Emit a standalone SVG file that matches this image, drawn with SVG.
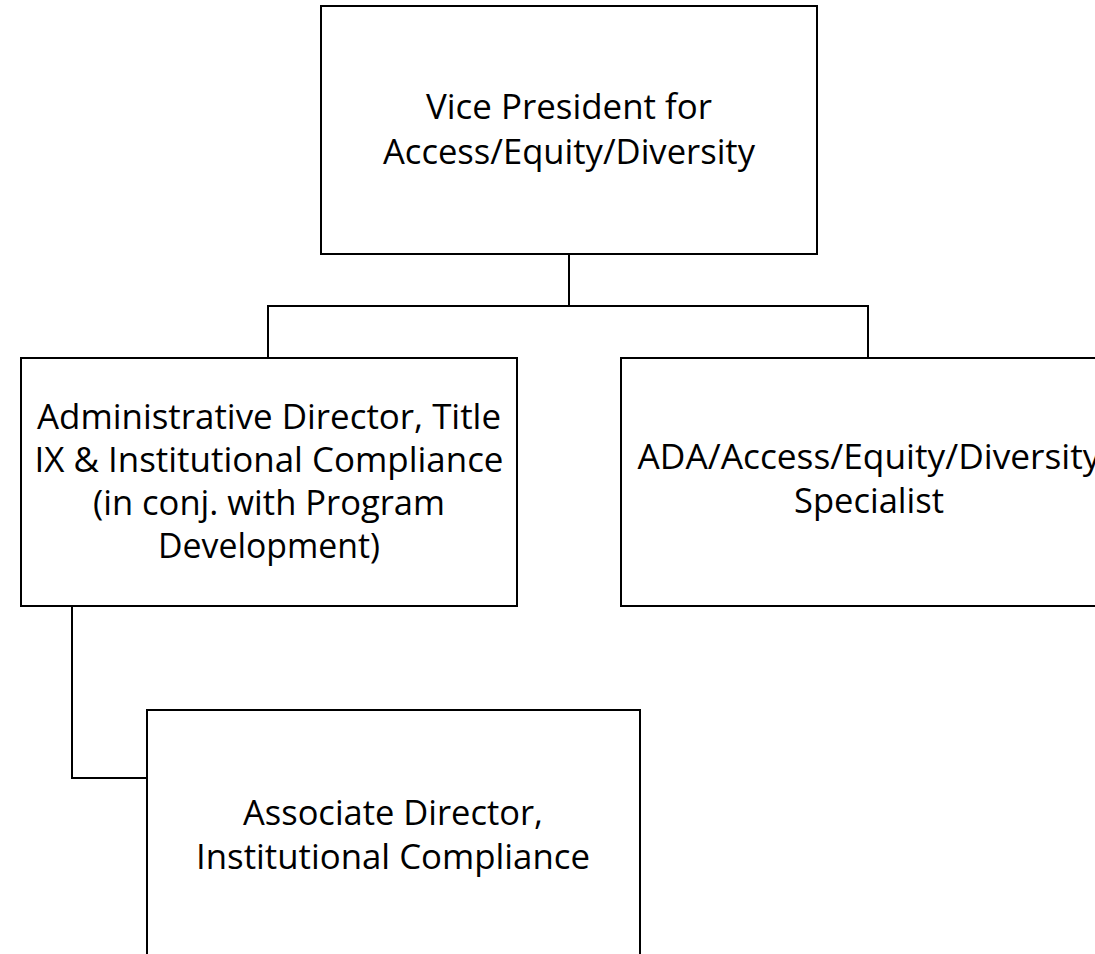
<svg xmlns="http://www.w3.org/2000/svg" width="1095" height="954" viewBox="0 0 1095 954">
<style>
.box{fill:#fff;stroke:#000;stroke-width:2}
.t{font-family:"Open Sans","Liberation Sans",sans-serif;font-size:35px;fill:#000;text-anchor:middle}
.c{fill:none;stroke:#000;stroke-width:2}
</style>
<rect width="1095" height="954" fill="#fff"/>
<g id="connectors">
<path class="c" d="M569,254 V306 M268,358 V306 H868 V358"/>
<path class="c" d="M72,606 V778 H147"/>
</g>
<g id="vp">
<rect class="box" x="321" y="6" width="496" height="248"/>
<text class="t" x="569" y="119" textLength="286" lengthAdjust="spacingAndGlyphs">Vice President for</text>
<text class="t" x="569" y="164" textLength="372" lengthAdjust="spacingAndGlyphs">Access/Equity/Diversity</text>
</g>
<g id="admin">
<rect class="box" x="21" y="358" width="496" height="248"/>
<text class="t" x="269" y="429" textLength="464" lengthAdjust="spacingAndGlyphs">Administrative Director, Title</text>
<text class="t" x="269" y="472" textLength="469" lengthAdjust="spacingAndGlyphs">IX &amp; Institutional Compliance</text>
<text class="t" x="269" y="515" textLength="352" lengthAdjust="spacingAndGlyphs">(in conj. with Program</text>
<text class="t" x="269" y="558" textLength="222" lengthAdjust="spacingAndGlyphs">Development)</text>
</g>
<g id="ada">
<rect class="box" x="621" y="358" width="496" height="248"/>
<text class="t" x="869" y="469" textLength="463" lengthAdjust="spacingAndGlyphs">ADA/Access/Equity/Diversity</text>
<text class="t" x="869" y="513" textLength="150" lengthAdjust="spacingAndGlyphs">Specialist</text>
</g>
<g id="assoc">
<rect class="box" x="147" y="710" width="493" height="250"/>
<text class="t" x="393" y="825" textLength="300" lengthAdjust="spacingAndGlyphs">Associate Director,</text>
<text class="t" x="393" y="869" textLength="394" lengthAdjust="spacingAndGlyphs">Institutional Compliance</text>
</g>
</svg>
